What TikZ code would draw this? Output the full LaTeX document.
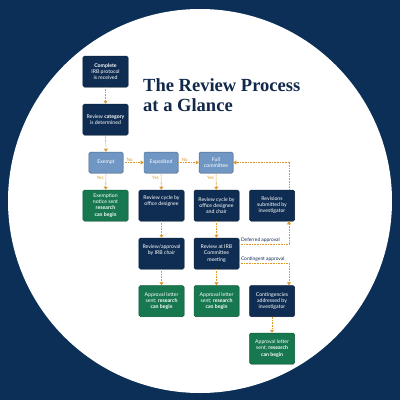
\documentclass[tikz,border=0pt]{standalone}
\usepackage{fontspec}
\setmainfont{Lato}
\newfontfamily\titlefont{Liberation Serif}
\usetikzlibrary{arrows.meta,shadows}
\definecolor{bgnavy}{HTML}{0B2F56}
\definecolor{boxnavy}{HTML}{0F2D52}
\definecolor{boxgreen}{HTML}{17784F}
\definecolor{boxblue}{HTML}{7096C4}
\definecolor{flowline}{HTML}{DC9A2A}
\definecolor{titlenavy}{HTML}{13294B}
\begin{document}
\begin{tikzpicture}[x=1bp,y=-1bp,
    every node/.style={font=\fontsize{5.2}{6.1}\selectfont, text=white, align=center, inner sep=0pt},
    stepbox/.style={draw=boxnavy!70!black, line width=0.5bp, fill=boxnavy, rounded corners=1.5bp,
      minimum width=45bp, minimum height=31bp,
      drop shadow={shadow xshift=0.5bp, shadow yshift=-0.7bp, opacity=0.35}},
    donebox/.style={stepbox, fill=boxgreen, draw=boxgreen!75!black},
    choicebox/.style={stepbox, fill=boxblue, draw=boxblue!70!black, minimum width=34bp, minimum height=21bp},
    flow/.style={draw=flowline, line width=0.55bp, dash pattern=on 1bp off 0.6bp,
      -{Triangle[width=4bp,length=3bp,fill=flowline]}},
    yesno/.style={text=flowline, font=\fontsize{4.6}{5}\selectfont},
    branch/.style={text=boxnavy, font=\fontsize{4.9}{5}\selectfont},
  ]
\useasboundingbox (0,0) rectangle (400,400);
\fill[bgnavy] (0,0) rectangle (400,400);
\fill[white] (200,201) circle[radius=192bp];

\node[text=titlenavy, anchor=north west, align=left, font=\titlefont\bfseries\fontsize{18.6}{20}\selectfont]
  at (143,78.5) {The Review Process\\at a Glance};

% first column
\node[stepbox] (protocol) at (105.5,71.5) {\textbf{Complete}\\IRB protocol\\is received};
\node[stepbox] (category) at (105.5,119.5) {Review \textbf{category}\\is determined};
\node[choicebox] (exempt) at (106,162.5) {Exempt};
\node[choicebox] (expedited) at (161,162.5) {Expedited};
\node[choicebox] (full) at (216,162.5) {Full\\committee};
\node[donebox] (exemptdone) at (105.5,205.5) {Exemption\\notice sent\\\textbf{research}\\\textbf{can begin}};

% expedited
\node[stepbox] (cycle) at (161.5,205.5) {Review cycle by\\office designee\\[4bp]};
\node[stepbox] (chairok) at (161.5,253.5) {Review/approval\\by IRB chair\\[2bp]};
\node[donebox] (letterA) at (161.5,301) {Approval letter\\sent; \textbf{research}\\\textbf{can begin}};

% full committee
\node[stepbox] (cyclechair) at (216.5,205.5) {Review cycle by\\office designee\\and chair};
\node[stepbox] (meeting) at (216.5,253.5) {Review at IRB\\Committee\\meeting};
\node[donebox] (letterB) at (216.5,301) {Approval letter\\sent; \textbf{research}\\\textbf{can begin}};

% outcomes of the meeting
\node[stepbox] (revisions) at (272,205.5) {Revisions\\submitted by\\investigator};
\node[stepbox] (conting) at (272,301) {Contingencies\\addressed by\\investigator};
\node[donebox] (letterC) at (272,348.5) {Approval letter\\sent; \textbf{research}\\\textbf{can begin}};

\draw[flow] (protocol) -- (category);
\draw[flow] (category) -- (exempt);
\draw[flow] (exempt) -- node[yesno, pos=0.15, above right, yshift=1bp] {No} (expedited);
\draw[flow] (expedited) -- node[yesno, pos=0.15, above right, yshift=1bp] {No} (full);
\draw[flow] (exempt) -- node[yesno, pos=0.3, left, xshift=-2bp] {Yes} (exemptdone);
\draw[flow] (expedited) -- node[yesno, pos=0.3, left, xshift=-2bp] {Yes} (cycle);
\draw[flow] (full) -- node[yesno, pos=0.3, left, xshift=-2bp] {Yes} (cyclechair);
\draw[flow] (cycle) -- (chairok);
\draw[flow] (chairok) -- (letterA);
\draw[flow] (cyclechair) -- (meeting);
\draw[flow] (meeting) -- (letterB);
\draw[flow] ([yshift=9.5bp]meeting.east) -| node[branch, pos=0, anchor=south west, xshift=1.5bp, yshift=1.2bp] {Deferred approval}
  ([xshift=17bp]revisions.south);
\draw[flow] ([yshift=-9.5bp]meeting.east) -| node[branch, pos=0, anchor=south west, xshift=1.5bp, yshift=1.8bp] {Contingent approval}
  ([xshift=17bp]conting.north);
\draw[flow] ([xshift=17bp]revisions.north) |- (full.east);
\draw[flow] (conting) -- (letterC);
\end{tikzpicture}
\end{document}
